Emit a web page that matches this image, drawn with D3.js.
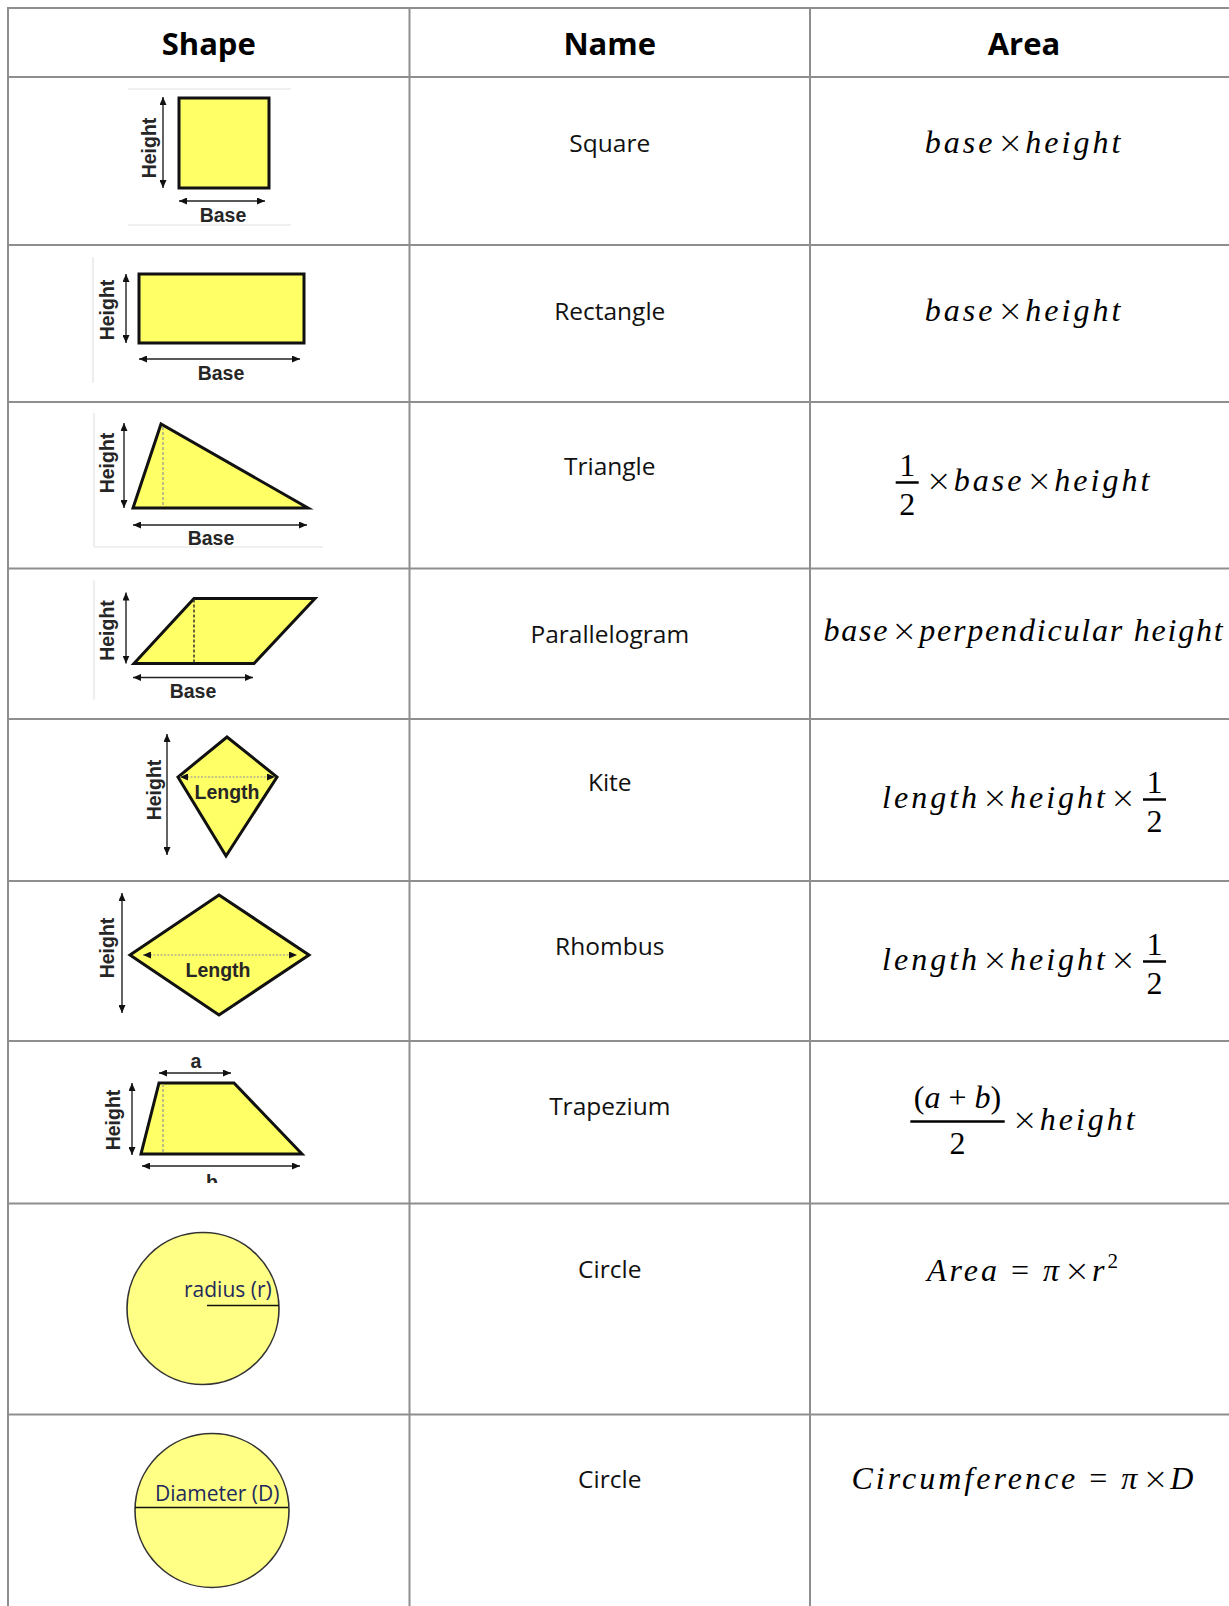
<!DOCTYPE html>
<html>
<head>
<meta charset="utf-8">
<script src="https://cdn.jsdelivr.net/npm/d3@7"></script>
<style>
  body { margin: 0; background: #fff; }
  svg { display: block; }
  text { white-space: pre; }
</style>
</head>
<body>
<div id="chart"></div>
<script>

// table content
var headers = ["Shape", "Name", "Area"];
var names = ["Square", "Rectangle", "Triangle", "Parallelogram", "Kite",
             "Rhombus", "Trapezium", "Circle", "Circle"];
var shapeKinds = ["square", "rectangle", "triangle", "parallelogram", "kite",
                  "rhombus", "trapezium", "radius", "diameter"];
// a string is a run of math text, a pair is a fraction [numerator, denominator]
var formulas = [
    ["base×height"],
    ["base×height"],
    [["1", "2"], "×base×height"],
    ["base×perpendicular height"],
    ["length×height×", ["1", "2"]],
    ["length×height×", ["1", "2"]],
    [["(a + b)", "2"], "×height"],
    ["Area = π×r^2"],
    ["Circumference = π×D"]
];

// layout
var width = 1229, height = 1606;
var colEdges = [8, 409.5, 810, 1238];
var rowEdges = [8, 77, 245, 402, 568.5, 719, 881, 1041, 1203.5, 1414.5, 1650];
var nameBaseline = [75, 75, 73, 74, 72, 74, 74, 74, 73];
var formulaBaseline = [76, 76, 89, 72, 89, 89, 89, 77, 74];
var formulaSpacing = [3, 3, 3, 1.8, 3, 3, 3, 3, 3];

// figure geometry, local to each shape cell (origin = cell top-left)
var figures = {
    square: {
        frame: [[120, 12, 283, 12], [120, 148, 283, 148]],
        poly: [[171, 21], [261, 21], [261, 111], [171, 111]],
        arrows: [[155, 20, 155, 111], [171, 124, 257, 124]],
        labels: [{ t: "Height", x: 141, y: 71, rot: true }, { t: "Base", x: 215, y: 145 }]
    },
    rectangle: {
        frame: [[85, 12, 85, 138]],
        poly: [[131, 29], [296, 29], [296, 98], [131, 98]],
        arrows: [[118, 29, 118, 98], [131, 114, 292, 114]],
        labels: [{ t: "Height", x: 99, y: 65, rot: true }, { t: "Base", x: 213, y: 135 }]
    },
    triangle: {
        frame: [[86, 11, 86, 145], [86, 145, 315, 145]],
        poly: [[153, 22], [125, 106], [300, 106]],
        dashes: [[155, 25, 155, 105, "#a8a68a"]],
        arrows: [[116, 21, 116, 106], [125, 123, 299, 123]],
        labels: [{ t: "Height", x: 99, y: 61, rot: true }, { t: "Base", x: 203, y: 143 }]
    },
    parallelogram: {
        frame: [[86, 12, 86, 131]],
        poly: [[186, 30], [307, 30], [246, 95], [126, 95]],
        dashes: [[186, 31, 186, 94, "#333"]],
        arrows: [[118, 24, 118, 95], [125, 109, 245, 109]],
        labels: [{ t: "Height", x: 99, y: 62, rot: true }, { t: "Base", x: 185, y: 129 }]
    },
    kite: {
        poly: [[219, 18], [269, 58], [218, 137], [170, 58]],
        dashArrows: [[172, 58, 267, 58]],
        arrows: [[159, 15, 159, 136]],
        labels: [{ t: "Length", x: 219, y: 80 }, { t: "Height", x: 146, y: 71, rot: true }]
    },
    rhombus: {
        poly: [[211, 14], [301, 74], [211, 134], [122, 74]],
        dashArrows: [[135, 74, 289, 74]],
        arrows: [[114, 12, 114, 132]],
        labels: [{ t: "Length", x: 210, y: 96 }, { t: "Height", x: 99, y: 67, rot: true }]
    },
    trapezium: {
        clip: 142,
        poly: [[151, 42], [226, 42], [294, 113], [133, 113]],
        dashes: [[155, 43, 155, 112, "#a8a68a"]],
        arrows: [[151, 32, 223, 32], [124, 42, 124, 114], [134, 125, 292, 125]],
        labels: [{ t: "a", x: 188, y: 27 }, { t: "Height", x: 105, y: 79, rot: true },
                 { t: "b", x: 204, y: 148 }]
    },
    radius: {
        circle: [195, 105, 76],
        lines: [[199, 102, 271, 102]],
        note: { t: "radius (r)", x: 176, y: 93 }
    },
    diameter: {
        circle: [204, 96, 77],
        lines: [[127, 93, 280, 93]],
        note: { t: "Diameter (D)", x: 147, y: 86 }
    }
};

var svg = d3.select("#chart")
    .append("svg")
    .attr("width", width)
    .attr("height", height);

svg.append("rect").attr("width", width).attr("height", height).attr("fill", "#fff");

var defs = svg.append("defs");
defs.append("marker")
    .attr("id", "head")
    .attr("markerUnits", "userSpaceOnUse")
    .attr("markerWidth", 8).attr("markerHeight", 7)
    .attr("refX", 8).attr("refY", 3.5)
    .attr("orient", "auto-start-reverse")
    .append("path")
    .attr("d", "M0,0L8,3.5L0,7Z")
    .attr("fill", "#111");

var rowTop = function (i) { return rowEdges[i + 1]; };
var colMid = function (c) { return (colEdges[c] + colEdges[c + 1]) / 2; };

// grid lines
var grid = svg.append("g").attr("stroke", "#8e8e8e").attr("stroke-width", 2);
grid.selectAll("line.h")
    .data(rowEdges.slice(0, -1))
    .enter().append("line")
    .attr("class", "h")
    .attr("x1", colEdges[0] - 1).attr("x2", colEdges[3])
    .attr("y1", function (d) { return d; })
    .attr("y2", function (d) { return d; });
grid.selectAll("line.v")
    .data(colEdges)
    .enter().append("line")
    .attr("class", "v")
    .attr("y1", rowEdges[0] - 1).attr("y2", rowEdges[rowEdges.length - 1])
    .attr("x1", function (d) { return d; })
    .attr("x2", function (d) { return d; });

// header
svg.selectAll("text.header")
    .data(headers)
    .enter().append("text")
    .attr("class", "header")
    .attr("x", function (d, i) { return colMid(i); })
    .attr("y", 55)
    .attr("text-anchor", "middle")
    .style("font-family", "'Open Sans', sans-serif")
    .style("font-weight", 700)
    .style("font-size", "31px")
    .attr("fill", "#000")
    .text(function (d) { return d; });

// names
svg.selectAll("text.name")
    .data(names)
    .enter().append("text")
    .attr("class", "name")
    .attr("x", colMid(1))
    .attr("y", function (d, i) { return rowTop(i) + nameBaseline[i]; })
    .attr("text-anchor", "middle")
    .style("font-family", "'Open Sans', sans-serif")
    .style("font-size", "24.5px")
    .attr("fill", "#111")
    .text(function (d) { return d; });

// shapes
shapeKinds.forEach(function (kind, i) {
    var f = figures[kind];
    var g = svg.append("g").attr("transform", "translate(" + colEdges[0] + "," + rowTop(i) + ")");
    if (f.clip) {
        defs.append("clipPath").attr("id", "clip" + i)
            .append("rect").attr("x", 0).attr("y", 0).attr("width", 400).attr("height", f.clip);
        g = g.append("g").attr("clip-path", "url(#clip" + i + ")");
    }
    (f.frame || []).forEach(function (l) {
        g.append("line").attr("x1", l[0]).attr("y1", l[1]).attr("x2", l[2]).attr("y2", l[3])
            .attr("stroke", "#e2e2e2").attr("stroke-width", 1.2);
    });
    if (f.poly) {
        g.append("path")
            .attr("d", d3.line()(f.poly) + "Z")
            .attr("fill", "#ffff66")
            .attr("stroke", "#111")
            .attr("stroke-width", 3)
            .attr("stroke-linejoin", "miter");
    }
    if (f.circle) {
        g.append("circle")
            .attr("cx", f.circle[0]).attr("cy", f.circle[1]).attr("r", f.circle[2])
            .attr("fill", "#ffff85")
            .attr("stroke", "#333")
            .attr("stroke-width", 1.6);
    }
    (f.dashes || []).forEach(function (l) {
        g.append("line").attr("x1", l[0]).attr("y1", l[1]).attr("x2", l[2]).attr("y2", l[3])
            .attr("stroke", l[4]).attr("stroke-width", 1.5).attr("stroke-dasharray", "3,2");
    });
    (f.dashArrows || []).forEach(function (l) {
        g.append("line").attr("x1", l[0]).attr("y1", l[1]).attr("x2", l[2]).attr("y2", l[3])
            .attr("stroke", "#b5b38a").attr("stroke-width", 1.5).attr("stroke-dasharray", "2,1.5")
            .attr("marker-start", "url(#head)").attr("marker-end", "url(#head)");
    });
    (f.arrows || []).forEach(function (l) {
        g.append("line").attr("x1", l[0]).attr("y1", l[1]).attr("x2", l[2]).attr("y2", l[3])
            .attr("stroke", "#222").attr("stroke-width", 1.4)
            .attr("marker-start", "url(#head)").attr("marker-end", "url(#head)");
    });
    (f.lines || []).forEach(function (l) {
        g.append("line").attr("x1", l[0]).attr("y1", l[1]).attr("x2", l[2]).attr("y2", l[3])
            .attr("stroke", "#111").attr("stroke-width", 1.6);
    });
    (f.labels || []).forEach(function (lb) {
        var t = g.append("text")
            .attr("text-anchor", "middle")
            .style("font-family", "'Liberation Sans', Arial, sans-serif")
            .style("font-weight", 700)
            .style("font-size", "19.5px")
            .attr("fill", "#262626")
            .text(lb.t);
        if (lb.rot) {
            t.attr("dominant-baseline", "central")
                .attr("transform", "translate(" + lb.x + "," + lb.y + ") rotate(-90)");
        } else {
            t.attr("x", lb.x).attr("y", lb.y);
        }
    });
    if (f.note) {
        g.append("text")
            .attr("x", f.note.x).attr("y", f.note.y)
            .style("font-family", "'Open Sans', sans-serif")
            .style("font-size", "21px")
            .attr("fill", "#1f2a5c")
            .text(f.note.t);
    }
});

// formulas
var mathFont = "'Liberation Serif', 'Times New Roman', serif";
var mathSize = 32;

function addRuns(textSel, s) {
    var re = /(\^\d)|(×)|([A-Za-zπ]+)|([^A-Za-zπ^×]+)/g, m, raised = false, dy = 0;
    while ((m = re.exec(s)) !== null) {
        var ts = textSel.append("tspan");
        if (m[1]) {
            ts.text(m[1].slice(1)).style("font-size", "21px").style("font-style", "normal")
                .attr("dy", -13);
            raised = true;
            continue;
        }
        if (m[2]) {
            ts.text("×").style("font-family", "'DejaVu Sans', sans-serif")
                .style("font-size", "31px").style("font-style", "normal")
                .style("font-weight", 300).style("letter-spacing", "2px")
                .attr("dx", 2);
        } else {
            ts.text(m[3] || m[4]).style("font-style", m[3] ? "italic" : "normal");
        }
        if (raised) { ts.attr("dy", 13); raised = false; }
    }
}

function mathText(g, s, x, y, ls) {
    var t = g.append("text")
        .attr("x", x).attr("y", y)
        .style("font-family", mathFont)
        .style("font-size", mathSize + "px")
        .style("letter-spacing", ls + "px")
        .attr("fill", "#000");
    addRuns(t, s);
    return t;
}

function runWidth(t) {
    // width including dx offsets of the tspans
    var extra = 0;
    t.selectAll("tspan").each(function () { extra += +(this.getAttribute("dx") || 0); });
    return t.node().getComputedTextLength() + extra;
}

formulas.forEach(function (parts, i) {
    var base = rowTop(i) + formulaBaseline[i];
    var ls = formulaSpacing[i];
    var grp = svg.append("g");
    var x = 0;
    parts.forEach(function (p, k) {
        if (typeof p === "string") {
            var t = mathText(grp, p, x, base, ls);
            x += runWidth(t);
        } else {
            var bar = base - 8.5;
            var num = mathText(grp, p[0], 0, bar - (p[0].indexOf("(") >= 0 ? 14 : 7), 0);
            var den = mathText(grp, p[1], 0, bar + 32.5, 0);
            var wn = num.node().getComputedTextLength(), wd = den.node().getComputedTextLength();
            var bw = Math.max(wn, wd) + 7;
            num.attr("x", x + (bw - wn) / 2);
            den.attr("x", x + (bw - wd) / 2);
            grp.append("line")
                .attr("x1", x).attr("x2", x + bw)
                .attr("y1", bar).attr("y2", bar)
                .attr("stroke", "#000").attr("stroke-width", 2.5);
            x += bw;
        }
        if (k < parts.length - 1) x += 5;
    });
    grp.attr("transform", "translate(" + (colMid(2) - x / 2) + ",0)");
});

</script>
</body>
</html>
